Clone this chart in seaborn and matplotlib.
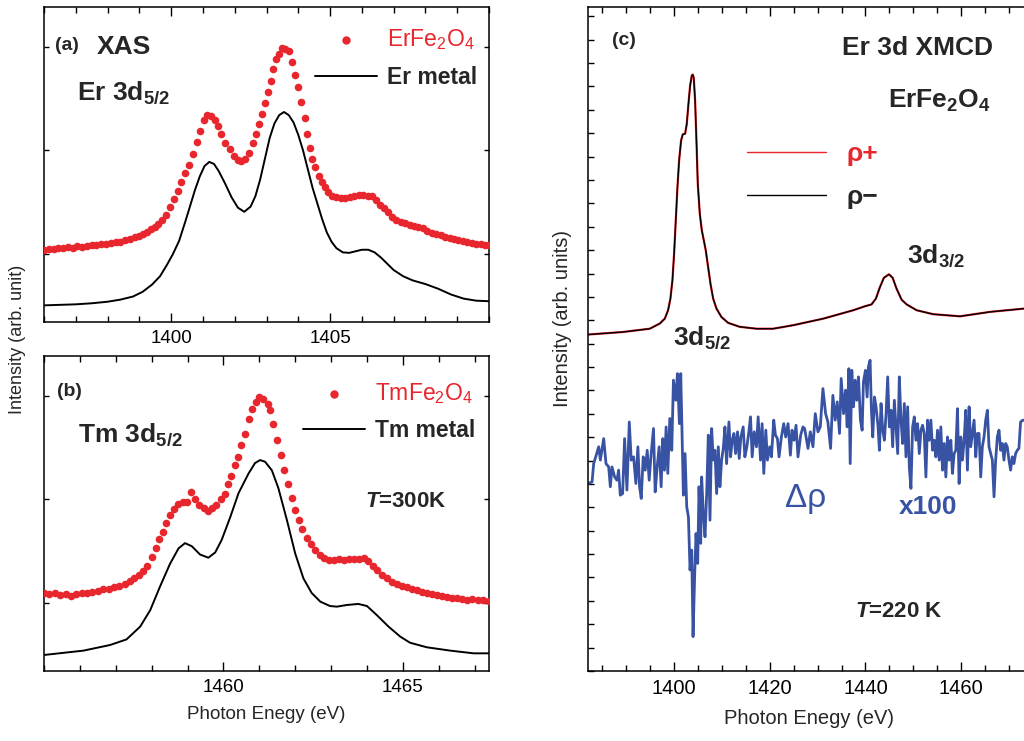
import matplotlib
matplotlib.use("Agg")
import matplotlib.pyplot as plt
from matplotlib.ticker import MultipleLocator, FixedLocator
import seaborn as sns

# ---------------- data ----------------
# (a) Er 3d5/2 XAS: ErFe2O4 (dots) and Er metal (line)
er_xas_energy = [1396.00, 1396.15, 1396.30, 1396.45, 1396.60, 1396.75, 1396.90, 1397.05, 1397.20, 1397.35,
                 1397.50, 1397.65, 1397.80, 1397.95, 1398.10, 1398.25, 1398.40, 1398.55, 1398.70, 1398.85,
                 1399.00, 1399.12, 1399.24, 1399.36, 1399.48, 1399.60, 1399.72, 1399.84, 1399.96, 1400.08,
                 1400.20, 1400.32, 1400.44, 1400.56, 1400.68, 1400.80, 1400.92, 1401.02, 1401.14, 1401.26,
                 1401.38, 1401.48, 1401.58, 1401.70, 1401.84, 1401.98, 1402.10, 1402.20, 1402.32, 1402.44,
                 1402.56, 1402.66, 1402.76, 1402.86, 1402.96, 1403.06, 1403.14, 1403.22, 1403.30, 1403.38,
                 1403.48, 1403.58, 1403.70, 1403.80, 1403.90, 1404.00, 1404.10, 1404.20, 1404.28, 1404.36,
                 1404.44, 1404.54, 1404.64, 1404.74, 1404.84, 1404.94, 1405.06, 1405.20, 1405.34, 1405.48,
                 1405.62, 1405.76, 1405.90, 1406.04, 1406.18, 1406.32, 1406.46, 1406.58, 1406.70, 1406.82,
                 1406.94, 1407.08, 1407.22, 1407.36, 1407.50, 1407.64, 1407.78, 1407.92, 1408.06, 1408.20,
                 1408.34, 1408.48, 1408.62, 1408.76, 1408.90, 1409.04, 1409.18, 1409.32, 1409.46, 1409.60,
                 1409.74, 1409.88, 1410.00]
er_xas_intensity = [1.04, 1.05, 1.05, 1.06, 1.06, 1.07, 1.06, 1.08, 1.07, 1.08,
                    1.09, 1.09, 1.10, 1.10, 1.11, 1.12, 1.12, 1.14, 1.15, 1.17,
                    1.18, 1.20, 1.22, 1.24, 1.26, 1.29, 1.33, 1.38, 1.46, 1.53,
                    1.61, 1.70, 1.78, 1.86, 1.97, 2.08, 2.19, 2.29, 2.34, 2.33,
                    2.29, 2.24, 2.16, 2.07, 2.01, 1.95, 1.91, 1.90, 1.92, 1.98,
                    2.07, 2.16, 2.25, 2.35, 2.46, 2.56, 2.67, 2.78, 2.88, 2.93,
                    2.99, 2.98, 2.96, 2.85, 2.73, 2.61, 2.47, 2.31, 2.16, 2.02,
                    1.92, 1.84, 1.75, 1.70, 1.65, 1.60, 1.56, 1.55, 1.54, 1.54,
                    1.55, 1.56, 1.57, 1.57, 1.56, 1.56, 1.52, 1.48, 1.45, 1.41,
                    1.36, 1.33, 1.31, 1.30, 1.28, 1.27, 1.26, 1.25, 1.23, 1.21,
                    1.20, 1.19, 1.17, 1.16, 1.15, 1.14, 1.13, 1.12, 1.11, 1.10,
                    1.10, 1.09, 1.09]

er_metal_energy = [1396.0, 1396.5, 1397.0, 1397.5, 1398.0, 1398.4, 1398.8, 1399.1, 1399.4, 1399.65,
                   1399.85, 1400.05, 1400.25, 1400.45, 1400.6, 1400.75, 1400.9, 1401.05, 1401.2, 1401.35,
                   1401.5, 1401.7, 1401.9, 1402.1, 1402.3, 1402.5, 1402.65, 1402.8, 1402.95, 1403.1,
                   1403.25, 1403.4, 1403.55, 1403.7, 1403.85, 1404.0, 1404.15, 1404.3, 1404.45, 1404.6,
                   1404.75, 1404.9, 1405.05, 1405.2, 1405.4, 1405.6, 1405.8, 1406.0, 1406.2, 1406.4,
                   1406.6, 1406.8, 1407.0, 1407.3, 1407.6, 1408.0, 1408.4, 1408.8, 1409.2, 1409.6, 1410.0]
er_metal_intensity = [0.51, 0.515, 0.52, 0.53, 0.545, 0.565, 0.595, 0.64, 0.71, 0.79,
                      0.89, 1.00, 1.13, 1.32, 1.47, 1.62, 1.75, 1.85, 1.89, 1.87,
                      1.80, 1.68, 1.55, 1.45, 1.41, 1.46, 1.56, 1.72, 1.92, 2.12,
                      2.26, 2.34, 2.37, 2.34, 2.27, 2.15, 2.00, 1.82, 1.64, 1.49,
                      1.34, 1.21, 1.12, 1.06, 1.02, 1.015, 1.03, 1.045, 1.045, 1.02,
                      0.97, 0.91, 0.85, 0.79, 0.75, 0.715, 0.67, 0.615, 0.575, 0.555, 0.55]

# (b) Tm 3d5/2 XAS: TmFe2O4 (dots) and Tm metal (line)
tm_xas_energy = [1455.00, 1455.15, 1455.30, 1455.45, 1455.60, 1455.75, 1455.90, 1456.05, 1456.20, 1456.35,
                 1456.50, 1456.65, 1456.80, 1456.95, 1457.10, 1457.25, 1457.40, 1457.52, 1457.64, 1457.76,
                 1457.88, 1458.00, 1458.11, 1458.21, 1458.31, 1458.41, 1458.51, 1458.62, 1458.74, 1458.86,
                 1458.98, 1459.09, 1459.20, 1459.33, 1459.45, 1459.57, 1459.68, 1459.80, 1459.92, 1460.03,
                 1460.13, 1460.22, 1460.31, 1460.40, 1460.50, 1460.60, 1460.70, 1460.80, 1460.90, 1461.00,
                 1461.11, 1461.23, 1461.30, 1461.39, 1461.50, 1461.60, 1461.68, 1461.79, 1461.90, 1462.00,
                 1462.10, 1462.20, 1462.32, 1462.44, 1462.56, 1462.68, 1462.80, 1462.94, 1463.08, 1463.22,
                 1463.36, 1463.50, 1463.64, 1463.78, 1463.92, 1464.04, 1464.16, 1464.28, 1464.42, 1464.56,
                 1464.70, 1464.84, 1464.98, 1465.12, 1465.26, 1465.40, 1465.54, 1465.68, 1465.82, 1465.96,
                 1466.10, 1466.24, 1466.38, 1466.52, 1466.66, 1466.80, 1466.94, 1467.08, 1467.22, 1467.40]
tm_xas_intensity = [1.10, 1.09, 1.10, 1.08, 1.09, 1.07, 1.09, 1.10, 1.10, 1.11,
                    1.12, 1.14, 1.14, 1.16, 1.17, 1.19, 1.22, 1.24, 1.27, 1.31,
                    1.36, 1.45, 1.53, 1.62, 1.69, 1.77, 1.85, 1.91, 1.96, 1.98,
                    1.98, 2.07, 2.00, 1.95, 1.92, 1.89, 1.92, 1.95, 2.00, 2.05,
                    2.15, 2.23, 2.33, 2.41, 2.52, 2.63, 2.77, 2.87, 2.94, 2.99,
                    2.97, 2.92, 2.86, 2.73, 2.57, 2.43, 2.28, 2.15, 2.01, 1.90,
                    1.80, 1.72, 1.63, 1.57, 1.51, 1.47, 1.44, 1.42, 1.42, 1.43,
                    1.42, 1.43, 1.43, 1.43, 1.44, 1.41, 1.36, 1.32, 1.27, 1.24,
                    1.21, 1.19, 1.17, 1.16, 1.14, 1.13, 1.11, 1.10, 1.09, 1.08,
                    1.07, 1.06, 1.05, 1.05, 1.04, 1.03, 1.04, 1.03, 1.03, 1.02]

tm_metal_energy = [1455.0, 1456.1, 1456.84, 1457.3, 1457.68, 1457.96, 1458.23, 1458.51, 1458.75, 1458.93,
                   1459.12, 1459.35, 1459.58, 1459.77, 1459.95, 1460.19, 1460.42, 1460.7, 1460.88, 1461.02,
                   1461.16, 1461.35, 1461.53, 1461.77, 1462.0, 1462.23, 1462.46, 1462.7, 1462.97, 1463.16,
                   1463.44, 1463.76, 1464.0, 1464.27, 1464.6, 1464.93, 1465.2, 1465.67, 1466.32, 1466.97, 1467.4]
tm_metal_intensity = [0.504, 0.546, 0.60, 0.654, 0.777, 0.935, 1.16, 1.38, 1.53, 1.58,
                      1.55, 1.47, 1.44, 1.49, 1.61, 1.83, 2.06, 2.25, 2.35, 2.379,
                      2.363, 2.28, 2.11, 1.80, 1.48, 1.24, 1.10, 1.017, 0.975, 0.969,
                      0.985, 0.995, 0.975, 0.889, 0.777, 0.68, 0.622, 0.578, 0.546, 0.52, 0.52]

# (c) Er 3d XMCD of ErFe2O4: spectra for both helicities and their difference (x100)
xmcd_energy = [1382.0, 1389.33, 1394.91, 1397.0, 1398.05, 1398.74, 1399.23, 1399.65, 1400.0, 1400.35,
               1400.70, 1401.05, 1401.46, 1401.81, 1402.30, 1402.65, 1403.0, 1403.35, 1403.70, 1403.91,
               1404.11, 1404.39, 1404.67, 1404.95, 1405.37, 1405.79, 1406.21, 1406.62, 1407.11, 1407.60,
               1408.16, 1408.86, 1409.90, 1411.30, 1413.74, 1417.22, 1420.71, 1424.90, 1431.17, 1437.45,
               1439.89, 1441.28, 1442.19, 1443.03, 1443.86, 1444.91, 1445.68, 1446.51, 1447.56, 1448.61,
               1450.70, 1454.18, 1459.76, 1466.04, 1473.15, 1474.4]
rho_plus = [14.39, 14.50, 14.64, 14.86, 15.07, 15.43, 15.93, 16.71, 17.85, 19.27,
            20.70, 21.84, 22.69, 22.95, 22.98, 23.40, 24.26, 25.04, 25.47, 25.51,
            25.37, 24.40, 22.69, 20.84, 19.56, 18.85, 18.42, 17.99, 17.28, 16.57,
            15.93, 15.50, 15.14, 14.89, 14.72, 14.64, 14.64, 14.79, 15.07, 15.43,
            15.60, 15.68, 15.93, 16.42, 16.82, 16.97, 16.82, 16.35, 15.88, 15.68,
            15.43, 15.26, 15.17, 15.36, 15.50, 15.52]
rho_minus = [14.39, 14.50, 14.64, 14.86, 15.07, 15.43, 15.93, 16.71, 17.85, 19.27,
             20.70, 21.84, 22.69, 22.95, 22.98, 23.40, 24.26, 25.04, 25.47, 25.50,
             25.36, 24.40, 22.69, 20.84, 19.56, 18.85, 18.42, 17.99, 17.28, 16.57,
             15.93, 15.50, 15.14, 14.89, 14.72, 14.64, 14.64, 14.79, 15.07, 15.43,
             15.60, 15.68, 15.93, 16.42, 16.82, 16.96, 16.82, 16.35, 15.88, 15.68,
             15.43, 15.26, 15.17, 15.36, 15.50, 15.52]

drho_energy = [1382.15, 1382.85, 1383.19, 1384.24, 1384.58, 1385.28, 1385.76, 1386.32, 1386.67, 1387.01,
               1387.57, 1388.06, 1388.40, 1388.75, 1389.24, 1389.65, 1390.14, 1390.63, 1391.04, 1391.53,
               1392.01, 1392.43, 1392.78, 1393.13, 1393.54, 1393.96, 1394.38, 1394.79, 1395.21, 1395.69,
               1396.04, 1396.46, 1396.88, 1397.29, 1397.64, 1397.99, 1398.33, 1398.68, 1399.10, 1399.51,
               1399.86, 1400.35, 1400.69, 1401.11, 1401.39, 1401.67, 1401.94, 1402.29, 1402.64, 1402.99,
               1403.33, 1403.68, 1403.96, 1404.31, 1404.58, 1404.93, 1405.21, 1405.56, 1405.76, 1406.11,
               1406.46, 1406.81, 1407.15, 1407.50, 1407.85, 1408.19, 1408.54, 1408.89, 1409.24, 1409.58,
               1409.93, 1410.28, 1410.63, 1410.97, 1411.46, 1411.81, 1412.15, 1412.50, 1412.85, 1413.26,
               1413.61, 1413.96, 1414.44, 1414.79, 1415.21, 1415.63, 1415.97, 1416.32, 1416.74, 1417.22,
               1417.57, 1418.06, 1418.40, 1418.75, 1419.17, 1419.51, 1420.00, 1420.35, 1420.83, 1421.18,
               1421.60, 1421.94, 1422.43, 1422.92, 1423.33, 1423.82, 1424.31, 1424.65, 1425.07, 1425.49,
               1425.90, 1426.46, 1426.94, 1427.29, 1427.99, 1428.47, 1429.03, 1429.51, 1430.07, 1430.56,
               1431.11, 1431.67, 1432.15, 1432.71, 1433.19, 1433.68, 1434.10, 1434.58, 1434.93, 1435.42,
               1435.83, 1436.18, 1436.53, 1436.81, 1437.15, 1437.50, 1437.85, 1438.19, 1438.54, 1438.96,
               1439.31, 1439.58, 1440.00, 1440.35, 1440.62, 1440.97, 1441.25, 1441.53, 1441.88, 1442.22,
               1442.64, 1442.92, 1443.26, 1443.61, 1443.96, 1444.31, 1444.65, 1445.00, 1445.35, 1445.69,
               1446.04, 1446.39, 1446.74, 1447.08, 1447.43, 1447.78, 1448.13, 1448.47, 1448.82, 1449.17,
               1449.51, 1449.86, 1450.21, 1450.56, 1450.90, 1451.25, 1451.60, 1451.94, 1452.29, 1452.64,
               1452.99, 1453.33, 1453.68, 1454.03, 1454.38, 1454.72, 1455.07, 1455.42, 1455.76, 1456.11,
               1456.46, 1456.81, 1457.15, 1457.50, 1457.85, 1458.19, 1458.54, 1458.89, 1459.24, 1459.58,
               1459.93, 1460.28, 1460.63, 1460.97, 1461.32, 1461.67, 1462.01, 1462.36, 1462.71, 1463.06,
               1463.40, 1463.75, 1464.10, 1464.44, 1464.79, 1465.14, 1465.49, 1465.83, 1466.18, 1466.53,
               1466.88, 1467.22, 1467.57, 1467.92, 1468.26, 1468.61, 1468.96, 1469.31, 1469.65, 1470.00,
               1470.35, 1470.69, 1471.04, 1471.39, 1471.74, 1472.08, 1472.43, 1472.92, 1474.30]
drho_x100 = [8.02, 8.09, 8.87, 9.59, 9.02, 9.94, 8.87, 8.73, 7.88, 8.73,
             8.30, 8.16, 8.59, 7.52, 7.59, 9.94, 7.74, 10.65, 9.02, 9.16,
             8.02, 9.59, 7.88, 7.38, 9.16, 8.59, 9.44, 8.16, 9.30, 10.37,
             7.66, 8.73, 9.59, 7.88, 9.94, 8.59, 10.44, 8.45, 10.80, 9.44,
             12.44, 11.58, 12.72, 10.58, 12.72, 10.16, 7.52, 9.30, 7.02, 6.60,
             4.32, 5.17, 1.47, 4.17, 5.88, 4.60, 7.88, 5.46, 8.30, 6.74,
             5.74, 7.59, 10.09, 6.45, 10.37, 9.02, 9.44, 7.59, 9.59, 7.88,
             9.02, 9.52, 10.44, 8.87, 10.65, 9.16, 9.87, 10.16, 9.30, 10.23,
             9.09, 10.01, 10.44, 9.16, 9.59, 10.23, 10.87, 9.16, 10.23, 9.59,
             10.87, 9.02, 10.58, 8.45, 10.30, 9.02, 9.59, 9.16, 10.73, 10.09,
             9.94, 9.16, 10.01, 10.58, 10.01, 10.58, 9.23, 10.30, 9.87, 10.51,
             9.16, 10.09, 10.44, 10.37, 9.52, 10.23, 9.59, 11.01, 10.23, 10.44,
             12.08, 11.01, 10.65, 9.52, 11.79, 10.73, 11.51, 10.16, 12.51, 11.01,
             12.01, 10.44, 12.93, 8.87, 12.86, 11.30, 12.44, 11.58, 12.58, 10.73,
             10.30, 12.36, 12.86, 11.72, 13.01, 13.29, 11.15, 10.01, 11.72, 11.30,
             10.44, 9.44, 11.44, 10.30, 9.87, 11.01, 12.58, 10.44, 11.15, 9.59,
             11.58, 10.44, 9.30, 12.58, 10.73, 9.73, 11.44, 9.16, 11.30, 8.73,
             7.81, 10.44, 10.87, 9.87, 10.58, 9.30, 10.30, 10.51, 10.16, 8.30,
             10.73, 9.87, 10.73, 9.44, 9.87, 9.16, 10.30, 9.02, 10.44, 8.59,
             9.73, 8.30, 10.01, 9.02, 9.87, 8.45, 9.30, 9.44, 11.22, 8.02,
             10.01, 9.02, 9.87, 11.15, 8.59, 11.30, 9.59, 10.16, 10.73, 9.16,
             10.16, 10.16, 8.30, 9.59, 10.01, 10.73, 11.15, 9.59, 9.30, 9.02,
             7.45, 9.02, 10.01, 10.30, 9.44, 9.73, 9.02, 9.73, 9.59, 9.02,
             8.59, 9.16, 8.87, 9.30, 9.44, 9.52, 10.65, 10.73, 10.70]

# labelled tick positions on the energy axes
xticks_a = [1400, 1405]
xticks_b = [1460, 1465]
xticks_c = [1400, 1420, 1440, 1460]

# ---------------- style ----------------
RED = "#e8262d"
BLUE = "#3953a4"

sns.set_theme(style="ticks")
plt.rcParams["font.family"] = ["Liberation Sans", "DejaVu Sans"]
plt.rcParams["mathtext.fontset"] = "custom"
plt.rcParams["mathtext.rm"] = "Liberation Sans"
plt.rcParams["mathtext.bf"] = "Liberation Sans:bold"
plt.rcParams["mathtext.it"] = "Liberation Sans:italic:bold"
plt.rcParams["mathtext.default"] = "regular"
plt.rcParams["axes.linewidth"] = 1.1
plt.rcParams["axes.edgecolor"] = "black"
plt.rcParams["xtick.color"] = "black"
plt.rcParams["ytick.color"] = "black"

W, H = 1024, 741
fig = plt.figure(figsize=(W / 100, H / 100), dpi=100)


def box(left, top, right, bottom):
    return [left / W, 1 - bottom / H, (right - left) / W, (bottom - top) / H]


ax_a = fig.add_axes(box(44, 7, 489, 322))
ax_b = fig.add_axes(box(44, 356, 489, 671))
ax_c = fig.add_axes(box(588, 7, 1030, 671))


def style_axis(ax, ticks, minor, size):
    ax.xaxis.set_major_locator(FixedLocator(ticks))
    ax.xaxis.set_minor_locator(MultipleLocator(minor))
    ax.yaxis.set_major_locator(MultipleLocator(1))
    ax.tick_params(which="both", direction="in", top=True, right=True,
                   labelleft=False, labelsize=size, width=1.0, pad=6)
    ax.tick_params(axis="x", which="major", length=6.5)
    ax.tick_params(axis="x", which="minor", length=4.3)
    ax.tick_params(axis="y", which="major", length=3.6)
    for s in ax.spines.values():
        s.set_visible(True)
        s.set_linewidth(1.1)


# ---- (a) ----
sns.scatterplot(x=er_xas_energy, y=er_xas_intensity, ax=ax_a, color=RED, s=30,
                linewidth=0, legend=False, zorder=3)
sns.lineplot(x=er_metal_energy, y=er_metal_intensity, ax=ax_a, color="black",
             lw=1.4, estimator=None, sort=False, legend=False)
ax_a.set_xlim(1396, 1410)
ax_a.set_ylim(0.35, 3.38)
style_axis(ax_a, xticks_a, 1, 13.5)

ax_a.text(0.025, 0.863, "(a)", transform=ax_a.transAxes, fontsize=14, fontweight="bold", va="baseline")
ax_a.text(0.119, 0.851, "XAS", transform=ax_a.transAxes, fontsize=19, fontweight="bold", va="baseline")
ax_a.text(0.074, 0.705, r"Er 3d$_{5/2}$", transform=ax_a.transAxes, fontsize=19,
          fontweight="bold", va="baseline")
leg_a = ax_a.legend(handles=[ax_a.collections[0], ax_a.lines[0]],
                    labels=[r"ErFe$_2$O$_4$", "Er metal"], loc="upper left",
                    bbox_to_anchor=(0.609, 0.937), frameon=False, fontsize=16.5,
                    borderpad=0, borderaxespad=0, handlelength=2.7, handletextpad=0.45,
                    labelspacing=0.62, markerscale=1.1)
leg_a.get_texts()[0].set_color(RED)
leg_a.get_texts()[1].set_fontweight("bold")

# ---- (b) ----
sns.scatterplot(x=tm_xas_energy, y=tm_xas_intensity, ax=ax_b, color=RED, s=30,
                linewidth=0, legend=False, zorder=3)
sns.lineplot(x=tm_metal_energy, y=tm_metal_intensity, ax=ax_b, color="black",
             lw=1.4, estimator=None, sort=False, legend=False)
ax_b.set_xlim(1455, 1467.4)
ax_b.set_ylim(0.35, 3.38)
style_axis(ax_b, xticks_b, 1, 13.5)
ax_b.set_xlabel("Photon Enegy (eV)", fontsize=13.5, labelpad=7)

ax_b.text(0.029, 0.873, "(b)", transform=ax_b.transAxes, fontsize=14, fontweight="bold", va="baseline")
ax_b.text(0.076, 0.727, r"Tm 3d$_{5/2}$", transform=ax_b.transAxes, fontsize=19,
          fontweight="bold", va="baseline")
ax_b.text(0.721, 0.521, r"$\mathit{T}$=300K", transform=ax_b.transAxes, fontsize=16,
          fontweight="bold", va="baseline")
leg_b = ax_b.legend(handles=[ax_b.collections[0], ax_b.lines[0]],
                    labels=[r"TmFe$_2$O$_4$", "Tm metal"], loc="upper left",
                    bbox_to_anchor=(0.582, 0.92), frameon=False, fontsize=16.5,
                    borderpad=0, borderaxespad=0, handlelength=2.7, handletextpad=0.45,
                    labelspacing=0.55, markerscale=1.1)
leg_b.get_texts()[0].set_color(RED)
leg_b.get_texts()[1].set_fontweight("bold")

fig.text(18 / W, 1 - 339 / H, "Intensity (arb. unit)", rotation=90, ha="center",
         va="center", fontsize=13)

# ---- (c) ----
sns.lineplot(x=xmcd_energy, y=rho_plus, ax=ax_c, color=RED, lw=1.6,
             estimator=None, sort=False, legend=False)
sns.lineplot(x=xmcd_energy, y=rho_minus, ax=ax_c, color="black", lw=1.0,
             estimator=None, sort=False, legend=False)
sns.lineplot(x=drho_energy, y=drho_x100, ax=ax_c, color=BLUE, lw=2.0,
             estimator=None, sort=False, legend=False)
ax_c.set_xlim(1382, 1474.4)
ax_c.set_ylim(0, 28.4)
style_axis(ax_c, xticks_c, 5, 14.5)
ax_c.tick_params(axis="y", which="major", length=4)
ax_c.set_xlabel("Photon Enegy (eV)", fontsize=14.5, labelpad=8)
fig.text(562 / W, 1 - 318 / H, "Intensity (arb. units)", rotation=90, ha="center",
         va="center", fontsize=14.5)

ax_c.text(0.054, 0.943, "(c)", transform=ax_c.transAxes, fontsize=14, fontweight="bold", va="baseline")
ax_c.text(0.575, 0.928, "Er 3d XMCD", transform=ax_c.transAxes, fontsize=19,
          fontweight="bold", va="baseline")
ax_c.text(0.679, 0.848, r"ErFe$_2$O$_4$", transform=ax_c.transAxes, fontsize=19,
          fontweight="bold", va="baseline")
ax_c.text(0.722, 0.6145, r"3d$_{3/2}$", transform=ax_c.transAxes, fontsize=19,
          fontweight="bold", va="baseline")
ax_c.text(0.192, 0.491, r"3d$_{5/2}$", transform=ax_c.transAxes, fontsize=19,
          fontweight="bold", va="baseline")
ax_c.text(0.446, 0.247, "Δρ", transform=ax_c.transAxes, fontsize=24, color=BLUE, va="baseline")
ax_c.text(0.704, 0.2364, "x100", transform=ax_c.transAxes, fontsize=19, color=BLUE,
          fontweight="bold", va="baseline")
ax_c.text(0.604, 0.0813, r"$\mathit{T}$=220 K", transform=ax_c.transAxes, fontsize=16,
          fontweight="bold", va="baseline")
leg_c = ax_c.legend(handles=[ax_c.lines[0], ax_c.lines[1]], labels=["ρ+", "ρ−"],
                    loc="upper left", bbox_to_anchor=(0.3597, 0.797), frameon=False,
                    fontsize=19, borderpad=0, borderaxespad=0, handlelength=3.0,
                    handletextpad=0.76, labelspacing=0.72)
leg_c.get_texts()[0].set_color(RED)
for t in leg_c.get_texts():
    t.set_fontweight("bold")
for ln in leg_c.get_lines():
    ln.set_linewidth(1.0)

fig.savefig("out.png", dpi=100)
